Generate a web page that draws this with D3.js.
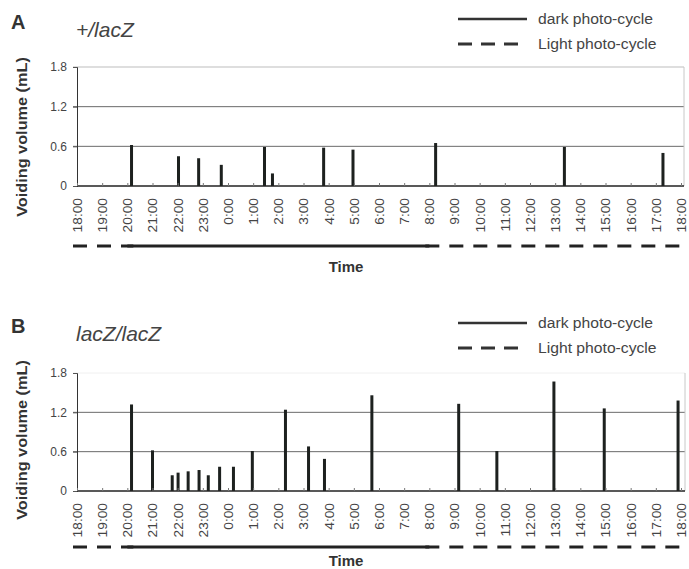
<!DOCTYPE html>
<html>
<head>
<meta charset="utf-8">
<script src="https://cdn.jsdelivr.net/npm/d3@7"></script>
<style>
  body { margin: 0; background: #fff; }
  svg { display: block; font-family: "Liberation Sans", Arial, sans-serif; }
</style>
</head>
<body>
<div id="chart"></div>
<script>
// voiding events (clock time, volume in mL)
const timesA = ["20:10","22:02","22:50","23:44","01:27","01:46","03:48","04:58","08:15","13:22","17:17"];
const volumesA = [0.62, 0.45, 0.42, 0.32, 0.59, 0.19, 0.58, 0.55, 0.65, 0.59, 0.50];

const timesB = ["20:10","21:00","21:47","22:01","22:25","22:51","23:13","23:40","00:13","00:58",
                "02:17","03:12","03:50","05:43","09:10","10:41","12:57","14:57","17:53"];
const volumesB = [1.32, 0.62, 0.24, 0.28, 0.30, 0.32, 0.24, 0.37, 0.37, 0.61,
                  1.24, 0.68, 0.49, 1.46, 1.33, 0.61, 1.67, 1.26, 1.38];

const yTicks = [0, 0.6, 1.2, 1.8];
const darkPeriods = [["20:00", "08:00"]];
const lightPeriods = [["18:00", "20:00"], ["08:00", "18:00"]];
const legendLabels = ["dark photo-cycle", "Light photo-cycle"];

const width = 689, height = 569;
const day0 = new Date(2000, 0, 1, 18, 0);
const day1 = new Date(2000, 0, 2, 18, 0);

// clock time -> date inside the 18:00..18:00 window
function toDate(s, isEnd) {
  const [h, m] = s.split(":").map(Number);
  let d = new Date(2000, 0, 1, h, m);
  if (d < day0 || (isEnd && +d === +day0)) d = new Date(2000, 0, 2, h, m);
  return d;
}

// the source type is a bit wider than Arial, stretch text along its run
function stretch(sel, k) {
  sel.each(function() {
    const len = this.getComputedTextLength();
    d3.select(this).attr("textLength", len * k).attr("lengthAdjust", "spacingAndGlyphs");
  });
}

const svg = d3.select("#chart").append("svg")
  .attr("width", width)
  .attr("height", height);

function drawPanel(p) {
  const x = d3.scaleTime().domain([day0, day1]).range([77, 681]);
  const y = d3.scaleLinear().domain([0, 1.8]).range([p.bottom, p.top]);
  const g = svg.append("g");

  // gridlines
  g.selectAll(".grid").data([0.6, 1.2, 1.8]).join("line")
    .attr("x1", 73).attr("x2", p.right)
    .attr("y1", d => y(d)).attr("y2", d => y(d))
    .attr("stroke", d => d === 1.8 ? p.topGrid : "#6a6a6a")
    .attr("stroke-width", 1);

  // faint right border
  g.append("line")
    .attr("x1", p.right).attr("x2", p.right)
    .attr("y1", y(1.8)).attr("y2", y(0))
    .attr("stroke", "#c8c8c8");

  // y axis
  const gy = g.append("g")
    .attr("transform", "translate(77,0)")
    .call(d3.axisLeft(y).tickValues(yTicks).tickSize(4).tickPadding(6)
      .tickFormat(d => d === 0 ? "0" : d3.format(".1f")(d)));
  gy.select(".domain").attr("stroke", "#333");
  gy.selectAll(".tick line").attr("stroke", "#555");
  gy.selectAll("text").attr("font-size", 12).attr("fill", "#444");

  // bars
  const data = p.times.map((t, i) => ({date: toDate(t), v: p.volumes[i]}));
  g.selectAll(".bar").data(data).join("rect")
    .attr("x", d => x(d.date) - 1.5)
    .attr("width", 3)
    .attr("y", d => y(d.v))
    .attr("height", d => y(0) - y(d.v))
    .attr("fill", "#1d211f");

  // x axis, ticks pointing into the plot
  const gx = g.append("g")
    .attr("transform", `translate(0,${y(0)})`)
    .call(d3.axisBottom(x).ticks(d3.timeHour.every(1)).tickSizeInner(-3).tickSizeOuter(0)
      .tickFormat(d3.timeFormat("%-H:%M")));
  gx.select(".domain").attr("stroke", "#222").attr("stroke-width", 1.6)
    .attr("d", `M77,0H${p.right}`);
  gx.selectAll(".tick line").attr("stroke", "#777");
  gx.selectAll("text")
    .attr("transform", "rotate(-90)")
    .attr("x", -12).attr("y", 0).attr("dy", "0.35em")
    .attr("text-anchor", "end")
    .attr("font-size", 12.5)
    .attr("fill", "#444")
    .call(stretch, 1.1);

  // photo-cycle bar under the axis
  const lineY = p.cycleY;
  g.selectAll(".dark").data(darkPeriods).join("line")
    .attr("x1", d => x(toDate(d[0]))).attr("x2", d => x(toDate(d[1], true)))
    .attr("y1", lineY).attr("y2", lineY)
    .attr("stroke", "#222").attr("stroke-width", 3);
  g.selectAll(".light").data(lightPeriods).join("line")
    .attr("x1", d => x(toDate(d[0])) - 4).attr("x2", d => x(toDate(d[1], true)) + 6)
    .attr("y1", lineY).attr("y2", lineY)
    .attr("stroke", "#222").attr("stroke-width", 3)
    .attr("stroke-dasharray", "14,10");

  g.append("text")
    .attr("x", 346).attr("y", p.timeY)
    .attr("text-anchor", "middle")
    .attr("font-size", 15).attr("font-weight", "bold").attr("fill", "#333")
    .text("Time");

  g.append("text")
    .attr("transform", `translate(27,${p.titleY}) rotate(-90)`)
    .attr("text-anchor", "middle")
    .attr("font-size", 15.5).attr("font-weight", "bold").attr("fill", "#333")
    .text("Voiding volume (mL)")
    .call(stretch, 1.05);

  // panel letter and genotype
  g.append("text")
    .attr("x", 11).attr("y", p.letterY)
    .attr("font-size", 20).attr("font-weight", "bold").attr("fill", "#333")
    .text(p.letter);
  g.append("text")
    .attr("x", 76).attr("y", p.letterY + 8)
    .attr("font-size", 21).attr("font-style", "italic").attr("fill", "#444")
    .text(p.genotype);

  // legend
  const lg = g.append("g");
  lg.append("line")
    .attr("x1", 458).attr("x2", 527).attr("y1", p.legendY).attr("y2", p.legendY)
    .attr("stroke", "#333").attr("stroke-width", 2.5);
  lg.append("line")
    .attr("x1", 458).attr("x2", 527).attr("y1", p.legendY + 25).attr("y2", p.legendY + 25)
    .attr("stroke", "#333").attr("stroke-width", 3).attr("stroke-dasharray", "14,9");
  lg.selectAll("text").data(legendLabels).join("text")
    .attr("x", 538).attr("y", (d, i) => p.legendY + 5 + i * 25)
    .attr("font-size", 14).attr("fill", "#444")
    .text(d => d)
    .call(stretch, 1.12);
}

drawPanel({
  letter: "A", genotype: "+/lacZ", times: timesA, volumes: volumesA,
  top: 67, bottom: 186, right: 684, topGrid: "#bdbdbd",
  cycleY: 246, timeY: 272, titleY: 137, letterY: 29, legendY: 19
});

drawPanel({
  letter: "B", genotype: "lacZ/lacZ", times: timesB, volumes: volumesB,
  top: 373, bottom: 491, right: 685, topGrid: "#f0f0f0",
  cycleY: 547, timeY: 566, titleY: 440, letterY: 333, legendY: 323
});
</script>
</body>
</html>
